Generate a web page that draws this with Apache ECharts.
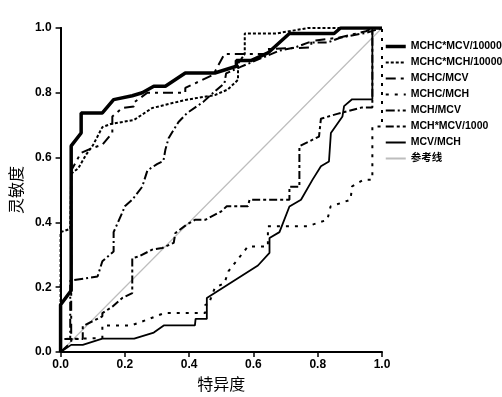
<!DOCTYPE html>
<html>
<head>
<meta charset="utf-8">
<script src="https://cdn.jsdelivr.net/npm/echarts@6/dist/echarts.min.js"></script>
<style>
  html, body { margin: 0; padding: 0; background: #fff; }
  #main { width: 502px; height: 397px; }
</style>
</head>
<body>
<div id="main"></div>
<script>
// ROC curves, points as [1 - specificity axis value, sensitivity]
var seriesNames = ['MCHC*MCV/10000', 'MCHC*MCH/10000', 'MCHC/MCV', 'MCHC/MCH', 'MCH/MCV', 'MCH*MCV/1000', 'MCV/MCH', '参考线'];
var xTicks = [0, 0.2, 0.4, 0.6, 0.8, 1.0];
var yTicks = [0, 0.2, 0.4, 0.6, 0.8, 1.0];

var mchcMcv10000 = [[0,0],[0,0.146],[0.033,0.19],[0.033,0.636],[0.064,0.676],[0.064,0.738],[0.13,0.738],[0.165,0.779],[0.223,0.791],[0.254,0.8],[0.29,0.82],[0.326,0.82],[0.388,0.861],[0.48,0.861],[0.547,0.882],[0.547,0.9],[0.594,0.9],[0.645,0.923],[0.712,0.983],[0.851,0.983],[0.871,1],[1,1]];
var mchcMch10000 = [[0,0],[0,0.37],[0.03,0.38],[0.033,0.55],[0.055,0.567],[0.08,0.61],[0.1,0.637],[0.13,0.694],[0.157,0.704],[0.228,0.716],[0.285,0.753],[0.388,0.778],[0.48,0.793],[0.52,0.81],[0.552,0.84],[0.552,0.89],[0.573,0.92],[0.573,0.983],[0.67,0.983],[0.77,1],[1,1]];
var mchcMcv = [[0,0],[0.033,0.03],[0.033,0.56],[0.063,0.614],[0.1,0.63],[0.13,0.64],[0.161,0.676],[0.161,0.727],[0.192,0.753],[0.228,0.758],[0.228,0.77],[0.27,0.8],[0.388,0.8],[0.388,0.815],[0.475,0.856],[0.51,0.92],[0.64,0.92],[0.64,0.935],[0.78,0.94],[0.78,0.96],[0.865,0.97],[0.95,0.99],[0.97,1],[1,1]];
var mchcMch = [[0,0],[0,0.04],[0.13,0.043],[0.13,0.082],[0.22,0.082],[0.27,0.1],[0.322,0.12],[0.45,0.12],[0.45,0.146],[0.46,0.146],[0.48,0.198],[0.51,0.213],[0.522,0.249],[0.583,0.326],[0.645,0.326],[0.645,0.388],[0.768,0.388],[0.83,0.408],[0.84,0.449],[0.902,0.47],[0.907,0.511],[0.943,0.532],[0.97,0.532],[0.97,0.696],[1,0.696],[1,1]];
var mchMcv = [[0,0],[0,0.04],[0.03,0.04],[0.03,0.22],[0.115,0.233],[0.13,0.28],[0.165,0.31],[0.165,0.37],[0.192,0.43],[0.2,0.45],[0.223,0.47],[0.254,0.51],[0.27,0.56],[0.3,0.58],[0.32,0.59],[0.326,0.624],[0.336,0.66],[0.367,0.71],[0.393,0.737],[0.444,0.772],[0.475,0.8],[0.51,0.83],[0.515,0.86],[0.56,0.88],[0.68,0.93],[0.73,0.94],[0.77,0.955],[0.83,0.955],[0.87,0.97],[0.95,0.985],[1,1]];
var mchMcv1000 = [[0,0],[0,0.04],[0.069,0.04],[0.069,0.08],[0.13,0.11],[0.13,0.12],[0.161,0.14],[0.192,0.167],[0.223,0.182],[0.223,0.29],[0.244,0.295],[0.285,0.316],[0.316,0.321],[0.352,0.337],[0.357,0.367],[0.388,0.39],[0.418,0.408],[0.45,0.408],[0.5,0.434],[0.517,0.45],[0.583,0.45],[0.588,0.47],[0.712,0.47],[0.712,0.51],[0.743,0.51],[0.743,0.635],[0.804,0.665],[0.81,0.72],[0.861,0.735],[0.938,0.755],[0.97,0.755],[0.97,1],[1,1]];
var mcvMch = [[0,0],[0.033,0.022],[0.069,0.022],[0.13,0.041],[0.229,0.041],[0.29,0.06],[0.321,0.082],[0.418,0.082],[0.42,0.102],[0.455,0.102],[0.455,0.167],[0.614,0.267],[0.65,0.306],[0.65,0.352],[0.681,0.37],[0.712,0.449],[0.748,0.47],[0.784,0.532],[0.81,0.573],[0.835,0.588],[0.841,0.676],[0.877,0.727],[0.882,0.759],[0.907,0.78],[0.97,0.78],[0.97,1],[1,1]];
var refLine = [[0,0],[1,1]];

var chartDom = document.getElementById('main');
var myChart = echarts.init(chartDom, null, { renderer: 'canvas' });

var latin = 'Liberation Sans, Arial, Noto Sans CJK SC, sans-serif';
var cjk = 'Noto Sans CJK SC, sans-serif';

function curve(name, data, width, type, color) {
  return {
    name: name,
    type: 'line',
    data: data,
    symbol: 'none',
    silent: true,
    itemStyle: { color: color || '#000' },
    lineStyle: { color: color || '#000', width: width, type: type },
    emphasis: { disabled: true }
  };
}

var axisCommon = {
  type: 'value',
  min: 0,
  max: 1,
  interval: 0.2,
  splitLine: { show: false },
  axisLine: { show: true, onZero: false, lineStyle: { color: '#000', width: 2 } },
  axisTick: { show: true, length: 5, lineStyle: { color: '#000', width: 1.5 } },
  nameLocation: 'middle',
  nameTextStyle: { fontFamily: cjk, fontSize: 16, color: '#000' }
};

var legendData = seriesNames.map(function (n, i) {
  return i === 0 ? { name: n, lineStyle: { width: 3.5 } } : { name: n };
});

var option = {
  animation: false,
  backgroundColor: '#fff',
  grid: { left: 58, right: 120, top: 28, bottom: 45 },
  legend: {
    orient: 'vertical',
    left: 384,
    top: 41,
    padding: 0,
    itemWidth: 20,
    itemHeight: 8,
    itemGap: 5,
    selectedMode: false,
    itemStyle: { opacity: 0 },
    textStyle: { fontFamily: latin, fontWeight: 'bold', fontSize: 10.5, color: '#000', lineHeight: 11 },
    data: legendData
  },
  xAxis: Object.assign({}, axisCommon, {
    name: '特异度',
    nameGap: 22,
    axisLabel: {
      margin: 7, color: '#000', fontFamily: latin, fontWeight: 'bold', fontSize: 12,
      formatter: function (v) { return xTicks.indexOf(+v.toFixed(1)) >= 0 ? v.toFixed(1) : ''; }
    }
  }),
  yAxis: [
    Object.assign({}, axisCommon, {
      name: '灵敏度',
      nameRotate: 90,
      nameGap: 25,
      axisLabel: {
        margin: 9, color: '#000', fontFamily: latin, fontWeight: 'bold', fontSize: 12,
        formatter: function (v) { return yTicks.indexOf(+v.toFixed(1)) >= 0 ? v.toFixed(1) : ''; }
      }
    }),
    {
      type: 'value', position: 'right', min: 0, max: 1,
      splitLine: { show: false }, axisTick: { show: false }, axisLabel: { show: false },
      axisLine: { show: true, lineStyle: { color: '#000', width: 2 } }
    }
  ],
  series: [
    curve('参考线', refLine, 1.2, 'solid', '#bdbdbd'),
    curve('MCV/MCH', mcvMch, 1.8, 'solid'),
    curve('MCH*MCV/1000', mchMcv1000, 2, [8, 3, 3, 3]),
    curve('MCH/MCV', mchMcv, 2, [9, 3, 2, 3]),
    curve('MCHC/MCH', mchcMch, 2, [3, 6]),
    curve('MCHC/MCV', mchcMcv, 2, [10, 5, 3, 5]),
    curve('MCHC*MCH/10000', mchcMch10000, 2, [3, 2]),
    curve('MCHC*MCV/10000', mchcMcv10000, 3.5, 'solid')
  ]
};

option && myChart.setOption(option);
</script>
</body>
</html>
